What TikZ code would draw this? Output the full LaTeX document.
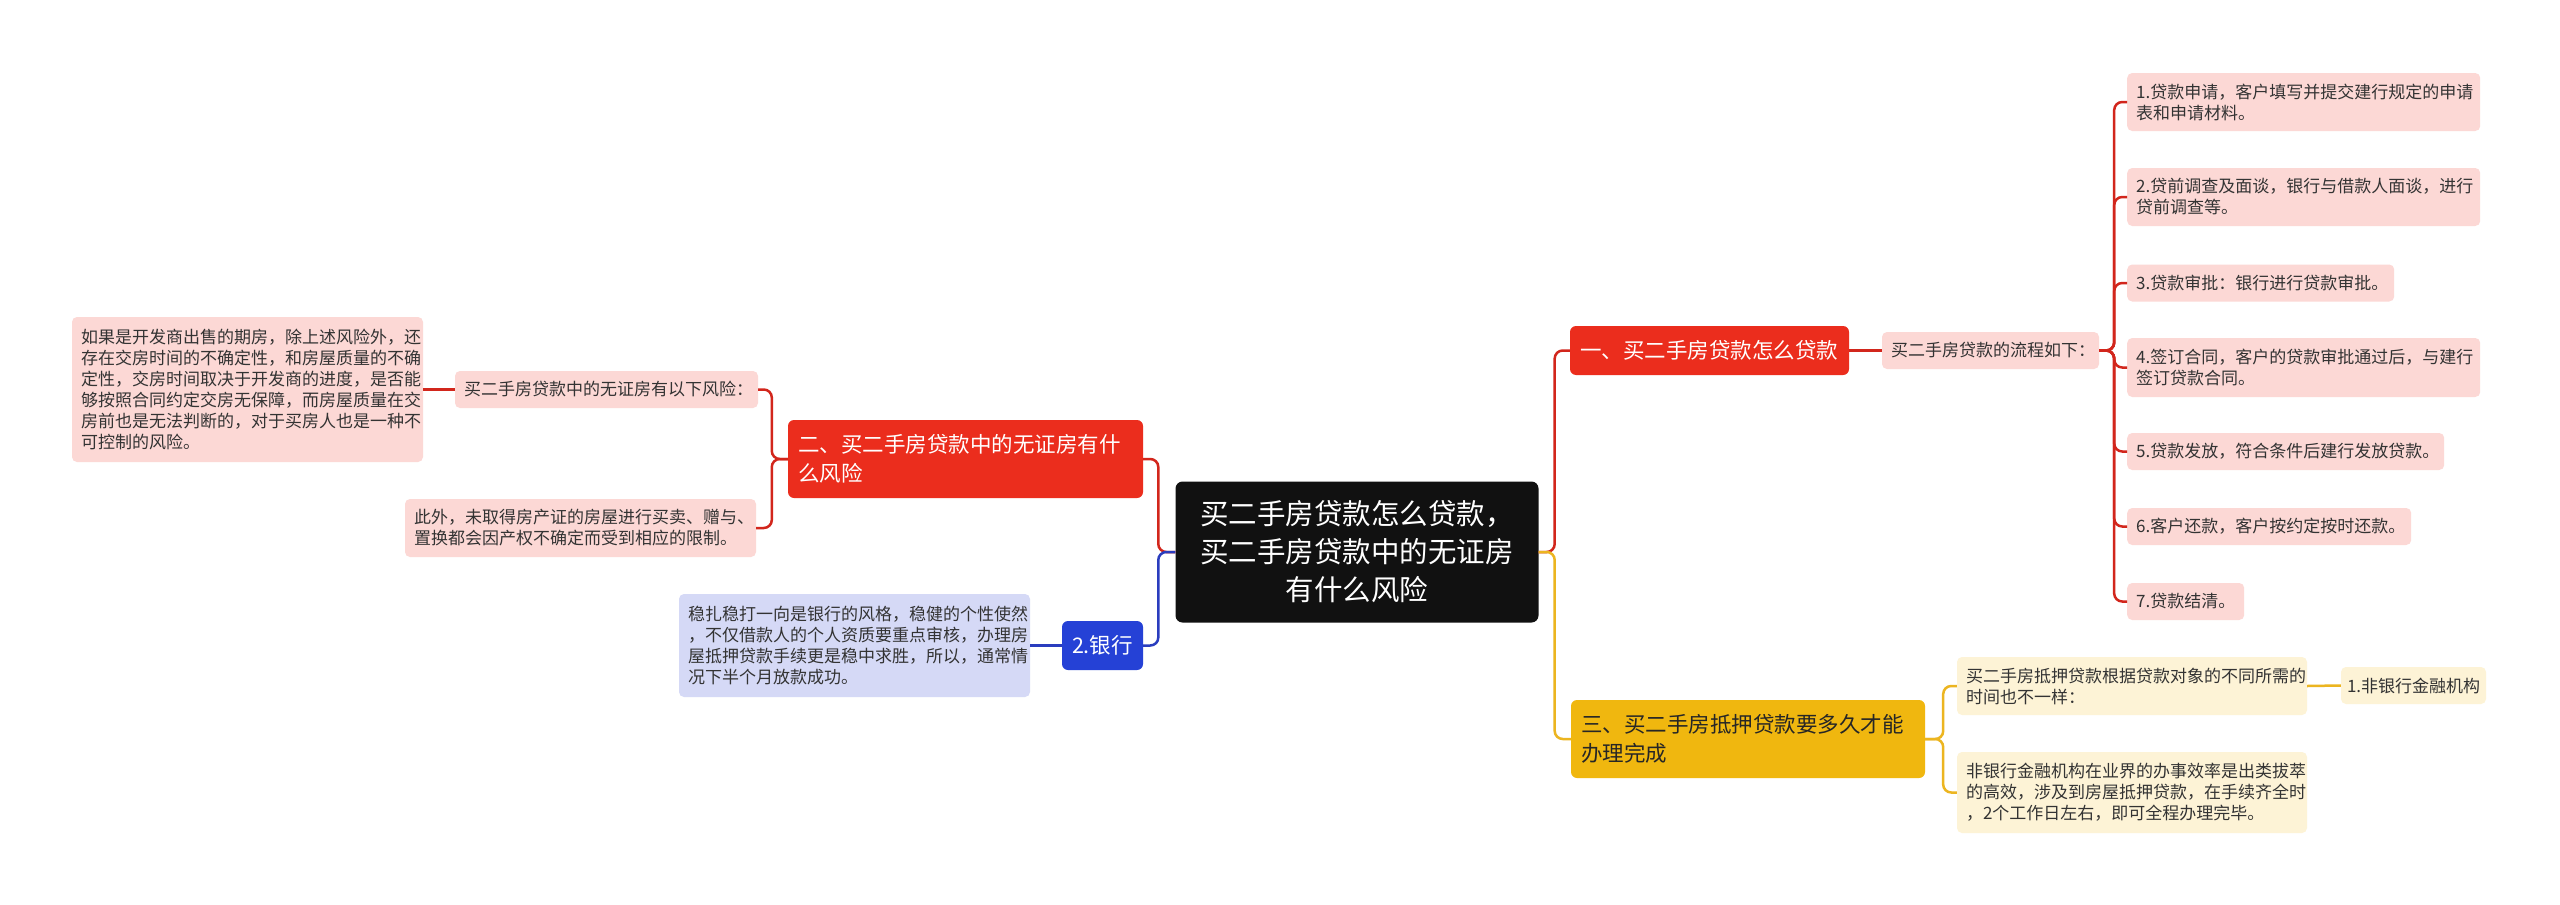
\documentclass[tikz,border=0pt]{standalone}
\usepackage{fontspec}
\setmainfont{Noto Sans CJK SC}
\usepackage{xcolor}
\definecolor{rootbg}{HTML}{111111}
\definecolor{redbr}{HTML}{EB2D1D}
\definecolor{redline}{HTML}{D2261C}
\definecolor{pinkbg}{HTML}{FCD8D5}
\definecolor{yelbr}{HTML}{F0B70F}
\definecolor{yelline}{HTML}{ECB520}
\definecolor{yelbg}{HTML}{FDF3D6}
\definecolor{bluebr}{HTML}{2541D6}
\definecolor{blueline}{HTML}{2A3DBE}
\definecolor{bluebg}{HTML}{D5D9F6}
\definecolor{txtdark}{HTML}{333333}
\usepackage{tikz}
\usetikzlibrary{positioning, calc}

\tikzset{
  leaf/.style={fill=#1, text=txtdark, rounded corners=5pt, inner xsep=9pt,
    inner ysep=0pt, align=left, font=\fontsize{17pt}{21pt}\selectfont},
  branch/.style={fill=#1, text=white, rounded corners=6pt, inner xsep=10pt,
    inner ysep=0pt, align=left, font=\fontsize{21.5pt}{29pt}\selectfont},
  conn/.style={draw=#1, line width=2.5pt, rounded corners=8pt},
}

\begin{document}
\begin{tikzpicture}[x=1pt, y=-1pt]
  \fill[white] (0,0) rectangle (2560,905);
  \useasboundingbox (0,0) rectangle (2560,905);

  % centre
  \node[fill=rootbg, text=white, rounded corners=7pt, inner sep=0pt, align=center,
    text width=363pt, minimum height=141pt, font=\fontsize{28.5pt}{38pt}\selectfont]
    (root) at (1357,552) {买二手房贷款怎么贷款，\\买二手房贷款中的无证房\\有什么风险};

  % branch one (right, red)
  \node[branch=redbr, text width=259pt, minimum height=49pt] (b1) at (1709.5,350.5)
    {一、买二手房贷款怎么贷款};
  \node[leaf=pinkbg, text width=199pt, minimum height=37pt] (flow) at (1990.5,350.5)
    {买二手房贷款的流程如下：};
  \node[leaf=pinkbg, text width=335pt, minimum height=58pt, anchor=west] (s1) at (2127,102)
    {1.贷款申请，客户填写并提交建行规定的申请\\表和申请材料。};
  \node[leaf=pinkbg, text width=335pt, minimum height=58pt, anchor=west] (s2) at (2127,197)
    {2.贷前调查及面谈，银行与借款人面谈，进行\\贷前调查等。};
  \node[leaf=pinkbg, text width=249pt, minimum height=37pt, anchor=west] (s3) at (2127,283)
    {3.贷款审批：银行进行贷款审批。};
  \node[leaf=pinkbg, text width=335pt, minimum height=59pt, anchor=west] (s4) at (2127,367.5)
    {4.签订合同，客户的贷款审批通过后，与建行\\签订贷款合同。};
  \node[leaf=pinkbg, text width=299pt, minimum height=37pt, anchor=west] (s5) at (2127,451.5)
    {5.贷款发放，符合条件后建行发放贷款。};
  \node[leaf=pinkbg, text width=266pt, minimum height=37pt, anchor=west] (s6) at (2127,526.5)
    {6.客户还款，客户按约定按时还款。};
  \node[leaf=pinkbg, text width=99pt, minimum height=37pt, anchor=west] (s7) at (2127,601.5)
    {7.贷款结清。};

  % branch three (right, yellow)
  \node[branch=yelbr, text=black!85, text width=334pt, minimum height=78pt] (b3) at (1748,739)
    {三、买二手房抵押贷款要多久才能\\办理完成};
  \node[leaf=yelbg, text width=332pt, minimum height=58pt] (t1) at (2132,686)
    {买二手房抵押贷款根据贷款对象的不同所需的\\时间也不一样：};
  \node[leaf=yelbg, text width=332pt, minimum height=81pt] (t2) at (2132,792.5)
    {非银行金融机构在业界的办事效率是出类拔萃\\的高效，涉及到房屋抵押贷款，在手续齐全时\\，2个工作日左右，即可全程办理完毕。};
  \node[leaf=yelbg, inner xsep=6pt, text width=133pt, minimum height=37pt] (t3) at (2413.5,685.5)
    {1.非银行金融机构};

  % branch two (left, red)
  \node[branch=redbr, text width=335pt, minimum height=78pt] (b2) at (965.5,459)
    {二、买二手房贷款中的无证房有什\\么风险};
  \node[leaf=pinkbg, text width=285pt, minimum height=37pt] (risk) at (606.5,389.5)
    {买二手房贷款中的无证房有以下风险：};
  \node[leaf=pinkbg, text width=333pt, minimum height=145pt] (futr) at (247.5,389.5)
    {如果是开发商出售的期房，除上述风险外，还\\存在交房时间的不确定性，和房屋质量的不确\\定性，交房时间取决于开发商的进度，是否能\\够按照合同约定交房无保障，而房屋质量在交\\房前也是无法判断的，对于买房人也是一种不\\可控制的风险。};
  \node[leaf=pinkbg, text width=333pt, minimum height=58pt] (extra) at (580.5,528)
    {此外，未取得房产证的房屋进行买卖、赠与、\\置换都会因产权不确定而受到相应的限制。};

  % branch 2.银行 (left, blue)
  \node[branch=bluebr, inner xsep=0pt, align=center, text width=81pt, minimum height=49pt]
    (bank) at (1102.5,645.5) {2.银行};
  \node[leaf=bluebg, text width=333pt, minimum height=103pt] (banktxt) at (854.5,645.5)
    {稳扎稳打一向是银行的风格，稳健的个性使然\\，不仅借款人的个人资质要重点审核，办理房\\屋抵押贷款手续更是稳中求胜，所以，通常情\\况下半个月放款成功。};

  % connectors
  \draw[conn=redline] (root.west) -- ++(-17,0) |- (b2.east);
  \draw[conn=blueline] (root.west) -- ++(-17,0) |- (bank.east);
  \draw[conn=redline] (root.east) -- ++(16,0) |- (b1.west);
  \draw[conn=yelline] (root.east) -- ++(16,0) |- (b3.west);

  \draw[conn=redline] (b1.east) -- (flow.west);
  \foreach \s in {s1,s2,s3,s4,s5,s6,s7}
    \draw[conn=redline] (flow.east) -- ++(15,0) |- (\s.west);

  \draw[conn=yelline] (b3.east) -- ++(18,0) |- (t1.west);
  \draw[conn=yelline] (b3.east) -- ++(18,0) |- (t2.west);
  \draw[conn=yelline] (t1.east) -- (t3.west);

  \draw[conn=redline] (b2.west) -- ++(-16,0) |- (risk.east);
  \draw[conn=redline] (b2.west) -- ++(-16,0) |- (extra.east);
  \draw[conn=redline] (risk.west) -- (futr.east);

  \draw[conn=blueline] (bank.west) -- (banktxt.east);
\end{tikzpicture}
\end{document}
